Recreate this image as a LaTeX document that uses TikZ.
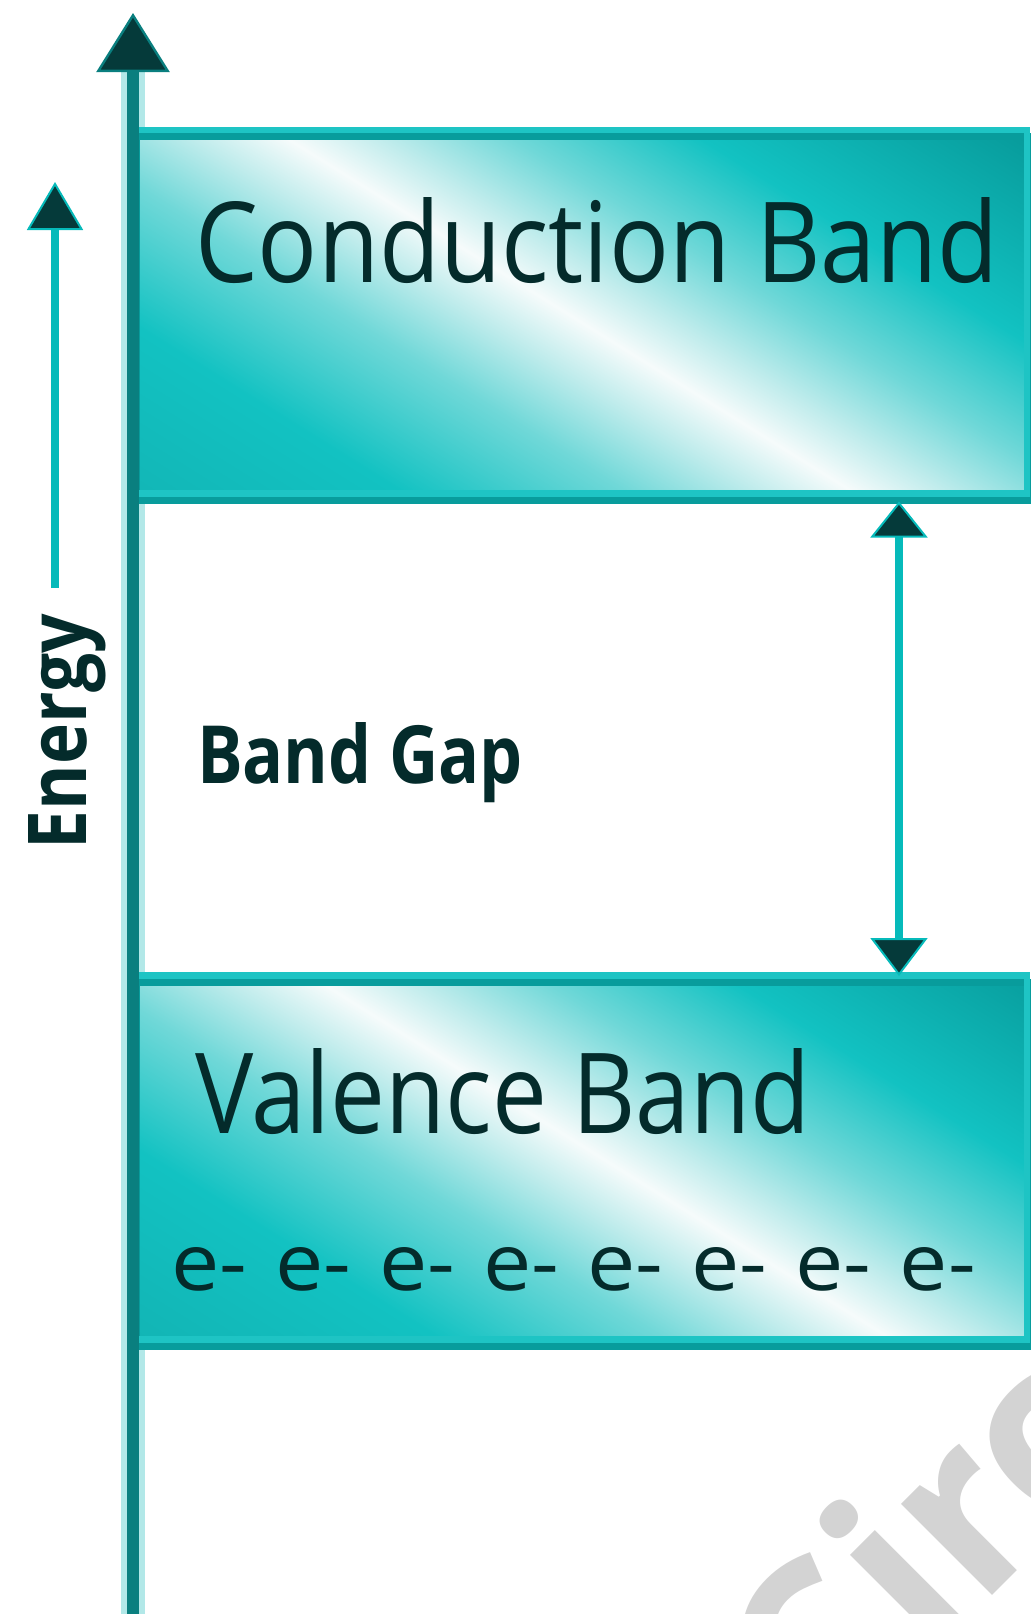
\documentclass[tikz,border=0pt]{standalone}
\usepackage{fontspec}
\setmainfont{Open Sans}
\usepackage{graphicx}
\usetikzlibrary{arrows.meta,calc}

% palette
\definecolor{inkTeal}{HTML}{042B2B}
\definecolor{headTeal}{HTML}{053A3A}
\definecolor{axisTeal}{HTML}{0A7F7F}
\definecolor{haloTeal}{HTML}{B2E8E8}
\definecolor{brightTeal}{HTML}{06BABA}
\definecolor{edgeLight}{HTML}{1EC4C4}
\definecolor{edgeDark}{HTML}{089C9C}
\definecolor{markGray}{HTML}{D3D3D3}
% band sheen stops
\definecolor{bandLL}{HTML}{12B5B5}
\definecolor{bandMid}{HTML}{12C2C2}
\definecolor{bandSoft}{HTML}{70D8D8}
\definecolor{bandPale}{HTML}{C0ECEC}
\definecolor{bandGlow}{HTML}{F6FBFB}
\definecolor{bandUR}{HTML}{079A9A}

% diagonal glossy sheen across a band
\pgfdeclarehorizontalshading{bandsheen}{100bp}{%
  color(0bp)=(bandLL); color(30bp)=(bandLL); color(38bp)=(bandMid);
  color(44bp)=(bandSoft); color(47.5bp)=(bandPale); color(50bp)=(bandGlow);
  color(52.5bp)=(bandPale); color(56bp)=(bandSoft); color(61bp)=(bandMid);
  color(70bp)=(bandUR); color(100bp)=(bandUR)}

\tikzset{
  bandbox/.style={rectangle, inner sep=0pt, outer sep=0pt, draw=none,
    minimum width=445.5pt},
  sheen/.style={path picture={
      \shade[shading=bandsheen, shading angle=58]
        ($(path picture bounding box.center)+(#1)$) ++(-500,-500) rectangle ++(1000,1000);}},
  rimLight/.style={draw=edgeLight, line width=3.25pt},
  rimDark/.style={draw=edgeDark, line width=3.5pt},
  lbl/.style={inner sep=0pt, outer sep=0pt, text=inkTeal},
  axisline/.style={draw=axisTeal, line width=6pt,
    -{Triangle[length=29.5pt, width=36.5pt, fill=headTeal, color=axisTeal, line width=1.2pt]}},
  thinarrow/.style={draw=brightTeal, line width=4pt},
}

\begin{document}
\begin{tikzpicture}[x=0.5pt, y=-0.5pt]
  \useasboundingbox (0,0) rectangle (1030,1614);

  % faint watermark lettering running out of the lower corner
  \node[inner sep=0pt, text=markGray, rotate=45, anchor=base west,
        font=\bfseries\fontsize{118pt}{118pt}\selectfont] (mark) at (822,1766) {Circuit Globe};

  % axis coordinates
  \coordinate (axisBot) at (133,1614);
  \coordinate (axisNeck) at (133,72);
  \coordinate (axisTop) at (133,13);

  % soft halo round the axis
  \draw[haloTeal, line width=12pt] (axisBot) -- (axisNeck);

  % conduction and valence bands
  \node[bandbox, minimum height=181.75pt, sheen={-12,3}] (cond) at (581.5,311.75) {};
  \node[bandbox, minimum height=182pt, sheen={26,4}] (val) at (581.5,1157.5) {};

  \foreach \b in {cond,val}{
    \draw[rimDark] ($(\b.north west)+(0,6.5)$) rectangle ($(\b.south east)+(0,6.5)$);
    \draw[rimLight] (\b.north west) rectangle (\b.south east);
  }

  % energy axis
  \draw[axisline] (axisBot) -- (axisTop);

  % labels
  \node[lbl, anchor=base west] (condlbl) at (195,282)
    {\resizebox{401.5pt}{42.5pt}{Conduction Band}};
  \node[lbl, anchor=base west] (gaplbl) at (197,783)
    {\resizebox{163pt}{30.5pt}{\bfseries Band Gap}};
  \node[lbl, anchor=base west] (vallbl) at (195,1133)
    {\resizebox{307.5pt}{42.5pt}{Valence Band}};
  \foreach \k in {0,...,7}
    \node[lbl, anchor=base west] (el\k) at ({171+104.1*\k},1290)
      {\resizebox{38pt}{21.5pt}{e-}};
  \node[lbl, rotate=90, anchor=base west] (energy) at (86,849)
    {\resizebox{117.5pt}{29pt}{\bfseries Energy}};

  % band gap double arrow
  \coordinate (gapx) at (899,0);
  \coordinate (gapHi) at ($(cond.south -| gapx)+(0,8)$);
  \coordinate (gapLo) at ($(val.north -| gapx)+(0,0.5)$);
  \draw[thinarrow,
    {Triangle[length=18pt, width=28.5pt, fill=headTeal, color=brightTeal, line width=1pt]}-{Triangle[length=19pt, width=28.5pt, fill=headTeal, color=brightTeal, line width=1pt]}]
    (gapHi) -- (gapLo);

  % small energy arrow beside the axis
  \coordinate (enTail) at (55,588);
  \coordinate (enTip) at (55,182);
  \draw[thinarrow, line width=3.75pt,
    -{Triangle[length=24pt, width=28pt, fill=headTeal, color=brightTeal, line width=1pt]}]
    (enTail) -- (enTip);
\end{tikzpicture}
\end{document}
